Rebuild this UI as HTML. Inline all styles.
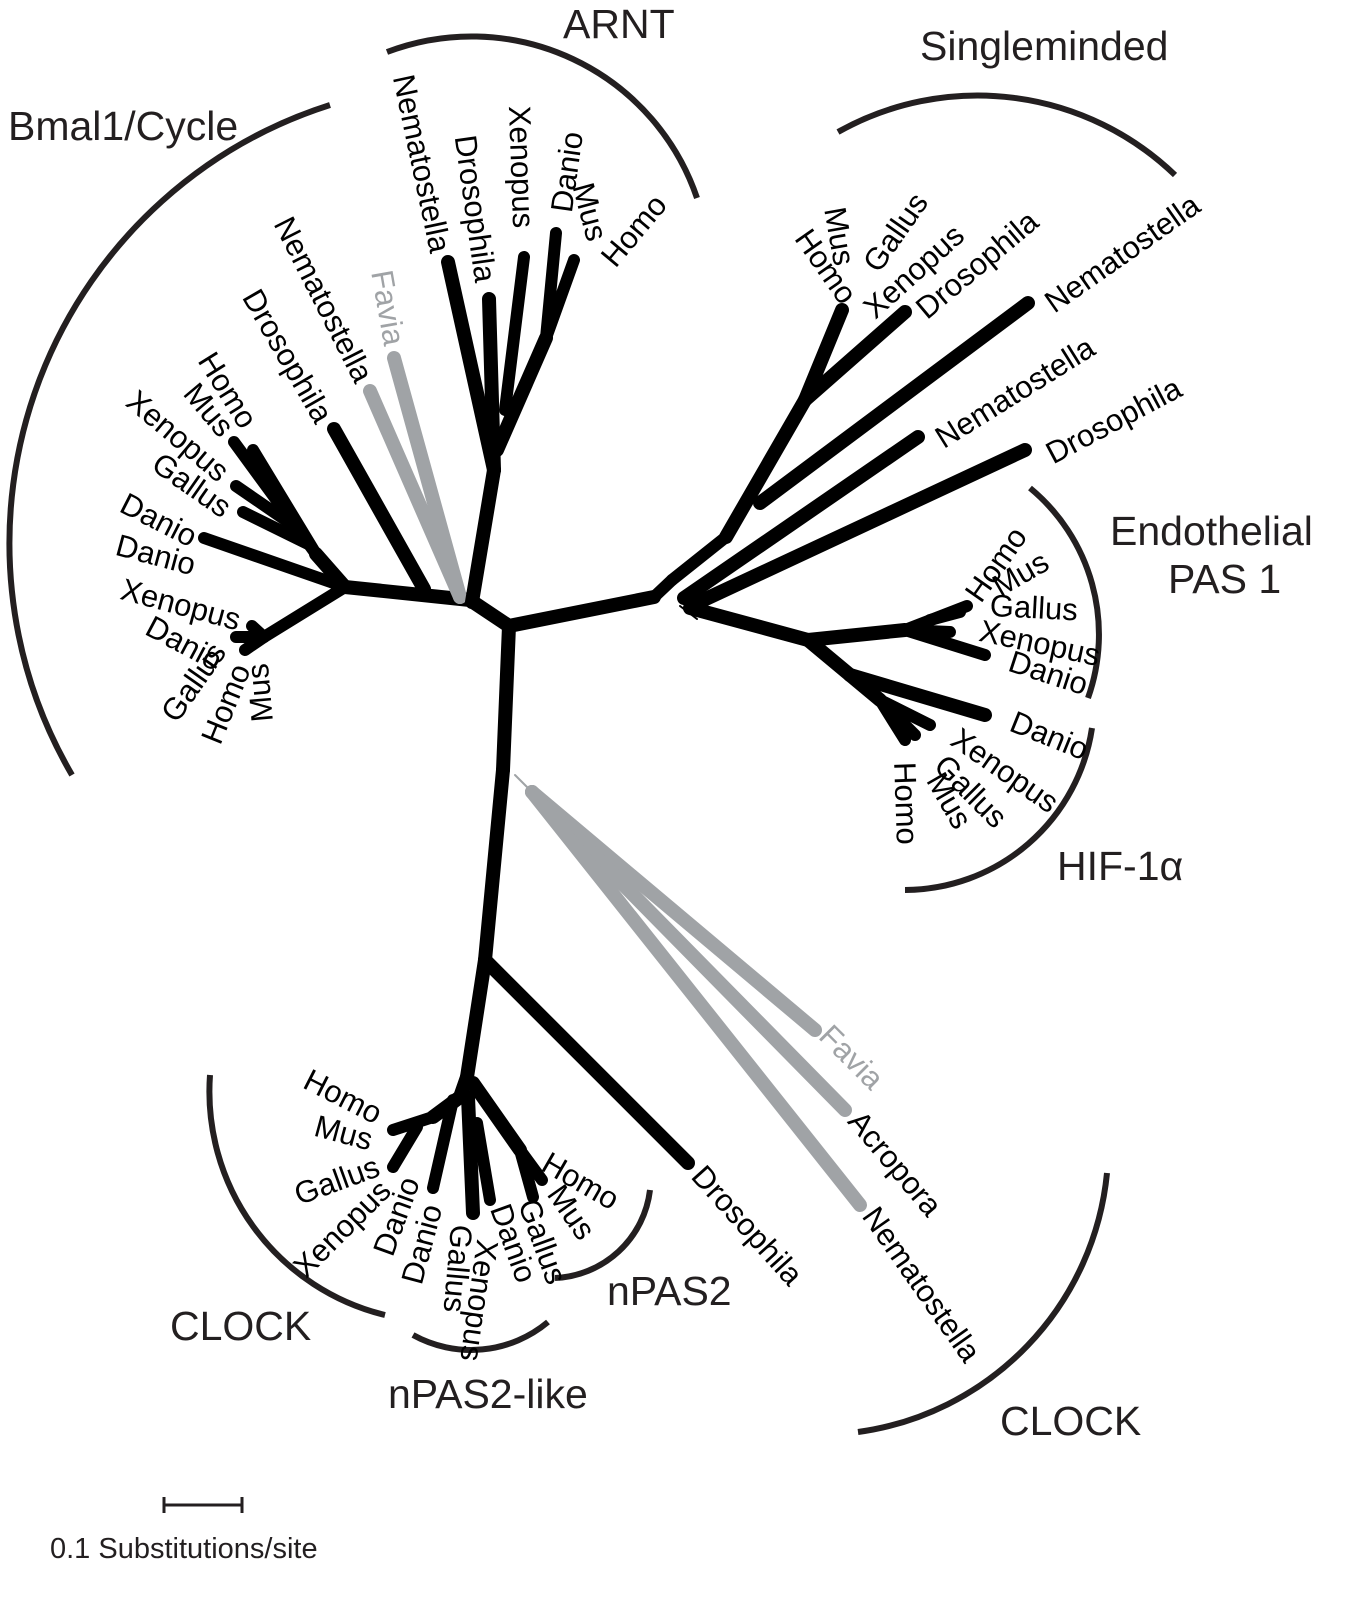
<!DOCTYPE html>
<html><head><meta charset="utf-8"><style>
html,body{margin:0;padding:0;background:#fff;}
svg{display:block;}
text{font-family:"Liberation Sans",Arial,sans-serif;}
</style></head><body>
<svg id="tree" width="1350" height="1603" viewBox="0 0 1350 1603" xmlns="http://www.w3.org/2000/svg">
<g id="arcs" fill="none" stroke="#231f20" stroke-width="6">
<path d="M330,105 A460,460 0 0 0 72,775"/>
<path d="M387,52 A238,238 0 0 1 697,198"/>
<path d="M838,132 A285,285 0 0 1 1175,175"/>
<path d="M1030,488 A190,190 0 0 1 1088,698"/>
<path d="M1092,728 A190,190 0 0 1 905,890"/>
<path d="M210,1075 A230,230 0 0 0 385,1315"/>
<path d="M413,1335 A120,120 0 0 0 548,1322"/>
<path d="M555,1278 A100,100 0 0 0 650,1190"/>
<path d="M1107,1173 A290,290 0 0 1 858,1432"/>
</g>
<g id="branches"></g>
<g id="labels"></g>
<g font-size="41" fill="#231f20">
<text x="8" y="140">Bmal1/Cycle</text>
<text x="563" y="38">ARNT</text>
<text x="920" y="60">Singleminded</text>
<text x="1110" y="545">Endothelial</text>
<text x="1168" y="593">PAS 1</text>
<text x="1057" y="880">HIF-1α</text>
<text x="170" y="1340">CLOCK</text>
<text x="388" y="1408">nPAS2-like</text>
<text x="607" y="1305">nPAS2</text>
<text x="1000" y="1435">CLOCK</text>
</g>
<g stroke="#231f20" stroke-width="3">
<line x1="163" y1="1505" x2="243" y2="1505"/>
<line x1="164" y1="1497" x2="164" y2="1513"/>
<line x1="242" y1="1497" x2="242" y2="1513"/>
</g>
<text x="50" y="1558" font-size="29" fill="#231f20">0.1 Substitutions/site</text>
</svg>
<script>
const K='#000', G='#a0a3a6';
// branch segments: start x, start y, end x, end y, colour, width
const bx1=[509,503,485,509,509,654,672,680, 470,345,316,316,300,310,345,345,264,264,264,424,460,460, 472,494,494,505,497,546,546, 726,805,805,760,684,695, 690,808,905,905,905,930,808,850,850,880,880,880, 515,532,532,532, 485, 467,460,433,417,453,468,477,473,520,520];
const by1=[626,770,960,626,626,597,580,606, 600,587,554,554,530,545,587,587,637,637,637,589,597,597, 602,470,470,410,450,338,338, 537,400,400,503,598,604, 608,640,630,630,630,620,640,675,675,700,700,700, 775,792,792,792, 960, 1077,1097,1117,1127,1100,1097,1123,1083,1150,1150];
const bx2=[503,485,467,470,654,672,726,697, 345,316,234,253,236,243,204,264,252,236,245,334,370,394, 494,448,489,524,546,556,574, 805,842,905,1028,918,1025, 808,905,967,950,985,960,850,985,880,905,930,915, 532,815,845,860, 688, 460,433,393,393,433,473,490,520,533,542];
const by2=[770,960,1077,600,597,580,537,619, 587,554,442,450,486,512,538,637,626,637,650,429,391,358, 470,262,299,257,338,233,260, 400,310,312,303,437,450, 640,630,606,632,655,612,675,715,700,740,725,735, 792,1030,1110,1205, 1163, 1097,1117,1130,1167,1188,1213,1200,1150,1197,1180];
const bcol=['K','K','K','K','K','K','K','K', 'K','K','K','K','K','K','K','K','K','K','K','K','G','G', 'K','K','K','K','K','K','K', 'K','K','K','K','K','K', 'K','K','K','K','K','K','K','K','K','K','K','K', 'G','G','G','G', 'K', 'K','K','K','K','K','K','K','K','K','K'];
const bw=[14,14,14,14,14,12,12,2, 14,14,12,12,12,12,12,12,12,12,12,14,14,14, 14,14,14,12,14,12,12, 14,14,14,14,14,14, 14,14,12,12,12,12,14,14,14,12,12,12, 2,14,14,14, 14, 14,14,12,12,12,14,12,14,12,12];

// leaf labels: text, x, y, angle, anchor, colour
const lt=['Nematostella','Drosophila','Xenopus','Danio','Mus','Homo',
 'Homo','Mus','Xenopus','Gallus','Danio','Danio','Xenopus','Danio','Gallus','Homo','Mus','Drosophila','Nematostella','Favia',
 'Homo','Mus','Gallus','Xenopus','Drosophila','Nematostella','Nematostella','Drosophila',
 'Homo','Mus','Gallus','Xenopus','Danio','Danio','Xenopus','Gallus','Mus','Homo',
 'Favia','Acropora','Nematostella','Drosophila',
 'Homo','Mus','Gallus','Xenopus','Danio','Danio','Gallus','Xenopus','Danio','Gallus','Mus','Homo'];
const lx=[441,486,524,561,598,607,
 250,228,225,228,195,195,240,220,168,210,262,325,365,395,
 850,845,870,868,920,1048,938,1048,
 972,995,990,980,1010,1012,955,940,935,905,
 825,855,870,698,
 380,372,378,385,410,432,462,488,500,528,555,545];
const ly=[252,282,228,212,240,262,
 425,432,475,510,538,565,620,662,718,742,722,420,380,345,
 300,265,268,312,312,305,440,455,
 598,588,605,630,660,720,735,760,775,762,
 1030,1115,1210,1170,
 1115,1140,1165,1185,1178,1205,1225,1240,1205,1200,1188,1160];
const la=[78,82,88,-82,75,-50,
 58,50,40,35,27,15,15,28,-55,-68,-95,60,63,80,
 55,80,-55,-42,-40,-35,-32,-28,
 -55,-30,3,12,18,22,35,45,60,88,
 45,50,55,48,
 27,15,-20,-45,-70,-75,95,98,70,70,55,30];
const lanc=['end','end','end','start','end','start',
 'end','end','end','end','end','end','end','end','start','start','start','end','end','end',
 'end','end','start','start','start','start','start','start',
 'start','start','start','start','start','start','start','start','start','start',
 'start','start','start','start',
 'end','end','end','end','end','end','start','start','start','start','start','start'];
const lcol=lt.map((t,i)=>(i===19||i===38)?G:K);

const NS='http://www.w3.org/2000/svg';
const bg=document.getElementById('branches');
for(let i=0;i<bx1.length;i++){
  const l=document.createElementNS(NS,'line');
  l.setAttribute('x1',bx1[i]);l.setAttribute('y1',by1[i]);
  l.setAttribute('x2',bx2[i]);l.setAttribute('y2',by2[i]);
  l.setAttribute('stroke',bcol[i]==='G'?G:K);
  l.setAttribute('stroke-width',bw[i]);
  l.setAttribute('stroke-linecap','round');
  
  
  bg.appendChild(l);
}
const lg=document.getElementById('labels');
for(let i=0;i<lt.length;i++){
  const t=document.createElementNS(NS,'text');
  t.setAttribute('transform','translate('+lx[i]+','+ly[i]+') rotate('+la[i]+')');
  t.setAttribute('text-anchor',lanc[i]);
  t.setAttribute('dy','0.35em');
  t.setAttribute('font-size','31');
  t.setAttribute('fill',lcol[i]);
  t.textContent=lt[i];
  
  
  lg.appendChild(t);
}
</script>
</body></html>
